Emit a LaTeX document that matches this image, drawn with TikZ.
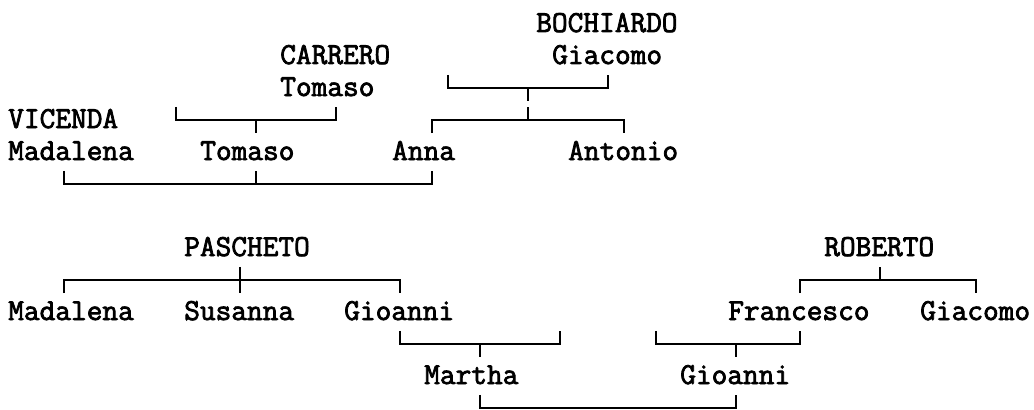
\documentclass[tikz,border=0pt]{standalone}
\usepackage{fontspec}
\newfontfamily\treefont[FakeBold=2.5]{Latin Modern Mono}
\tikzset{
  person/.style={anchor=base west, inner sep=0pt, font=\treefont\fontsize{22.857pt}{24pt}\selectfont},
  tie/.style={line width=1.4pt, line join=miter}
}

\begin{document}
\begin{tikzpicture}[x=12pt, y=-24pt]
\useasboundingbox (0,0) rectangle (64.625,12.8125);

% upper tree
\node (boch) at (33.5,1) [person] {BOCHIARDO};
\node (carr) at (17.5,2) [person] {CARRERO};
\node (bochG) at (34.5,2) [person] {Giacomo};
\node (carrT) at (17.5,3) [person] {Tomaso};
\node (vic) at (0.5,4) [person] {VICENDA};
\node (vicM) at (0.5,5) [person] {Madalena};
\node (tom) at (12.5,5) [person] {Tomaso};
\node (anna) at (24.5,5) [person] {Anna};
\node (anto) at (35.5,5) [person] {Antonio};

% lower tree
\node (pasc) at (11.5,8) [person] {PASCHETO};
\node (rob) at (51.5,8) [person] {ROBERTO};
\node (madB) at (0.5,10) [person] {Madalena};
\node (sus) at (11.5,10) [person] {Susanna};
\node (gioA) at (21.5,10) [person] {Gioanni};
\node (fra) at (45.5,10) [person] {Francesco};
\node (giac) at (57.5,10) [person] {Giacomo};
\node (mar) at (26.5,12) [person] {Martha};
\node (gioB) at (42.5,12) [person] {Gioanni};

% bracket ends
\coordinate (carL) at (11,3.75);  \coordinate (carM) at (16,3.75);  \coordinate (carR) at (21,3.75);
\coordinate (bpL) at (28,2.75);   \coordinate (bpM) at (33,2.75);   \coordinate (bpR) at (38,2.75);
\coordinate (bkL) at (27,3.75);   \coordinate (bkM) at (33,3.75);   \coordinate (bkR) at (39,3.75);
\coordinate (weaL) at (4,5.75);   \coordinate (weaM) at (16,5.75);  \coordinate (weaR) at (27,5.75);
\coordinate (pasL) at (4,8.75);   \coordinate (pasM) at (15,8.75);  \coordinate (pasR) at (25,8.75);
\coordinate (robL) at (50,8.75);  \coordinate (robM) at (55,8.75);  \coordinate (robR) at (61,8.75);
\coordinate (gioL) at (25,10.75); \coordinate (gioM) at (30,10.75); \coordinate (gioR) at (35,10.75);
\coordinate (fraL) at (41,10.75); \coordinate (fraM) at (46,10.75); \coordinate (fraR) at (50,10.75);
\coordinate (webL) at (30,12.75); \coordinate (webR) at (46,12.75);

\draw [tie] (carL) ++(0,-.41) -- (carL) -- (carR) -- ++(0,-.41);
\draw [tie] (carM) -- ++(0,.41);
\draw [tie] (bpL) ++(0,-.41) -- (bpL) -- (bpR) -- ++(0,-.41);
\draw [tie] (bpM) -- ++(0,.41);
\draw [tie] (bkL) ++(0,.41) -- (bkL) -- (bkR) -- ++(0,.41);
\draw [tie] (bkM) -- ++(0,-.41);
\draw [tie] (weaL) ++(0,-.41) -- (weaL) -- (weaR) -- ++(0,-.41);
\draw [tie] (weaM) -- ++(0,-.41);
\draw [tie] (pasL) ++(0,.41) -- (pasL) -- (pasR) -- ++(0,.41);
\draw [tie] (pasM) ++(0,-.41) -- ++(0,.82);
\draw [tie] (robL) ++(0,.41) -- (robL) -- (robR) -- ++(0,.41);
\draw [tie] (robM) -- ++(0,-.41);
\draw [tie] (gioL) ++(0,-.41) -- (gioL) -- (gioR) -- ++(0,-.41);
\draw [tie] (gioM) -- ++(0,.41);
\draw [tie] (fraL) ++(0,-.41) -- (fraL) -- (fraR) -- ++(0,-.41);
\draw [tie] (fraM) -- ++(0,.41);
\draw [tie] (webL) ++(0,-.41) -- (webL) -- (webR) -- ++(0,-.41);
\end{tikzpicture}
\end{document}
